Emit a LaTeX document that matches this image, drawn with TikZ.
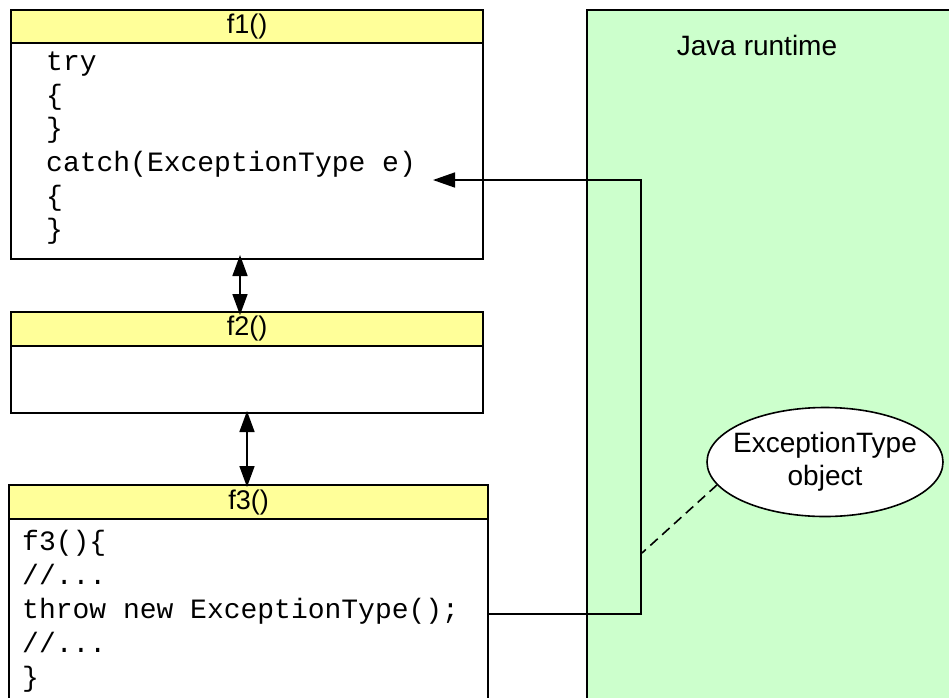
\documentclass[tikz,border=0pt]{standalone}
\usepackage{fontspec}
\setmainfont{Liberation Sans}
\setmonofont{Liberation Mono}
\usetikzlibrary{arrows.meta,shapes.geometric,calc}
\definecolor{hdr}{RGB}{255,255,153}
\definecolor{rt}{RGB}{204,255,204}
\begin{document}
\begin{tikzpicture}[x=1pt,y=-1pt,
 box/.style={draw=black,line width=1.6pt,inner sep=0pt,outer sep=0pt,anchor=north west},
 hdrbox/.style={box,fill=hdr,font=\fontsize{27}{30}\selectfont},
 code/.style={anchor=base west,inner sep=0pt,font=\fontsize{28}{34}\selectfont\ttfamily},
 conn/.style={line width=1.6pt},
 tip/.style={-{Triangle[length=22pt,width=15pt]}},
 dtip/.style={{Triangle[length=21pt,width=15pt]}-{Triangle[length=21pt,width=15pt]}}
]
\useasboundingbox (0,0) rectangle (949,697);
\begin{scope}
\clip (0,0) rectangle (949,697);
% Java runtime area
\node[box,fill=rt,minimum width=380pt,minimum height=720pt] (rt) at (587,10) {};
\node[font=\fontsize{28}{33}\selectfont] (rtlabel) at (757,45) {Java runtime};

% f1
\node[box,fill=white,minimum width=472pt,minimum height=216pt] (f1body) at (11,43) {};
\node[hdrbox,minimum width=472pt,minimum height=33pt] (f1head) at (11,10) {f1()};
\node[code] (l1) at (46,70) {try};
\node[code] (l2) at (46,104) {\{};
\node[code] (l3) at (46,137) {\}};
\node[code] (catch) at (46,171) {catch(ExceptionType e)};
\node[code] (l5) at (46,205) {\{};
\node[code] (l6) at (46,238) {\}};

% f2
\node[box,fill=white,minimum width=472pt,minimum height=67pt] (f2body) at (11,346) {};
\node[hdrbox,minimum width=472pt,minimum height=34pt] (f2head) at (11,312) {f2()};

% f3
\node[box,fill=white,minimum width=479pt,minimum height=220pt] (f3body) at (9,519) {};
\node[hdrbox,minimum width=479pt,minimum height=34pt] (f3head) at (9,485) {f3()};
\node[code] (m1) at (22,550) {f3()\{};
\node[code] (m2) at (22,584) {//...};
\node[code] (throw) at (22,618) {throw new ExceptionType();};
\node[code] (m4) at (22,652) {//...};
\node[code] (m5) at (22,686) {\}};

% object
\node[ellipse,draw=black,line width=1.6pt,fill=white,minimum width=236pt,minimum height=109pt,inner xsep=-25pt,inner ysep=-12pt,align=center,font=\fontsize{28}{33}\selectfont] (obj) at (825,462) {ExceptionType\\object};

% connectors
\coordinate (tj) at (641,614);
\coordinate (cj) at (641,180);
\coordinate (catchtip) at (433,180);
\coordinate (dj) at (642,553);
\draw[conn,tip] (f3body.east |- tj) -- (tj) -- (cj) -- (catchtip);
\draw[conn,dash pattern=on 10pt off 6pt] (obj.192) -- (dj);
\draw[conn,dtip,shorten <=-4pt,shorten >=-3pt] ([xshift=-7pt]f1body.south) -- ([xshift=-7pt]f1body.south |- f2head.north);
\draw[conn,dtip,shorten <=-2pt,shorten >=-2pt] (f2body.south) -- (f2body.south |- f3head.north);
\end{scope}
\end{tikzpicture}
\end{document}
